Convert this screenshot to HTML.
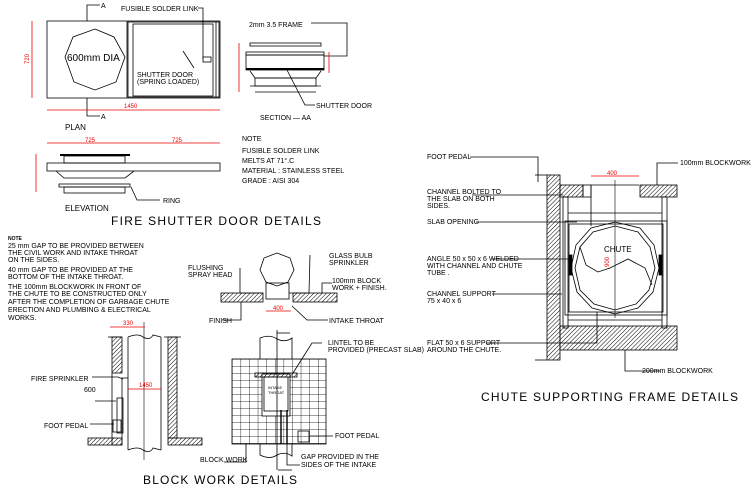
<!DOCTYPE html>
<html><head><meta charset="utf-8"><style>
html,body{margin:0;padding:0;background:#fff}
svg{display:block}
text{font-family:"Liberation Sans",sans-serif;fill:#000}
.s{font-size:7px}
.r{fill:#e00;font-size:6px}
.t{font-size:12px}
.m{font-size:10px}
</style></head><body>
<svg width="754" height="493" viewBox="0 0 754 493" xmlns="http://www.w3.org/2000/svg">
<defs>
<pattern id="h" width="3" height="3" patternUnits="userSpaceOnUse" patternTransform="rotate(45)">
<line x1="0" y1="0" x2="0" y2="3" stroke="#000" stroke-width="1"/></pattern>
<pattern id="g" width="8.6" height="7" patternUnits="userSpaceOnUse" x="232" y="359">
<path d="M0 0H8.6M0 0V7" stroke="#000" stroke-width="0.8" fill="none"/></pattern>
</defs>
<g fill="none" stroke="#000" stroke-width="0.8">
<!-- PLAN -->
<rect x="47" y="21" width="173" height="77"/>
<line x1="127" y1="21" x2="127" y2="98"/>
<rect x="128" y="22" width="91" height="75"/>
<rect x="133" y="24" width="80" height="72"/>
<line x1="216" y1="22" x2="216" y2="97"/>
<polygon points="95,29 114,37 125,57 116,82 95,90 74,82 65,57 73,37"/>
<polyline points="87,21 87,5 100,5"/>
<polyline points="87,98 87,116 100,116"/>
<polyline points="198,8 203,8 203,59"/>
<rect x="203" y="57" width="8" height="5"/>
<line x1="183" y1="51" x2="194" y2="68"/>
<!-- SECTION AA -->
<rect x="250" y="43" width="71" height="3"/>
<rect x="246" y="52" width="78" height="3"/>
<rect x="246" y="55" width="78" height="15"/>
<line x1="246" y1="69" x2="324" y2="69" stroke-width="2"/>
<polyline points="250,71 255,78 316,78 321,71"/>
<rect x="255" y="78" width="61" height="8"/>
<line x1="250" y1="86" x2="321" y2="86"/>
<line x1="255" y1="92" x2="316" y2="92"/>
<polyline points="311,23 347,23 347,56 324,56"/>
<polyline points="287,70 305,105 315,105"/>
<line x1="239" y1="43" x2="239" y2="92" stroke="#e00"/>
<line x1="329" y1="52" x2="329" y2="73" stroke="#e00"/>
<!-- ELEVATION -->
<line x1="60" y1="155" x2="130" y2="155" stroke-width="2"/>
<rect x="64" y="156" width="61" height="7"/>
<rect x="47" y="163" width="173" height="8"/>
<polyline points="56,171 64,178 125,178 134,171"/>
<rect x="59" y="184" width="71" height="3"/>
<rect x="64" y="187" width="61" height="6"/>
<polyline points="131,187 137,200 160,200"/>
<line x1="36" y1="154" x2="36" y2="192" stroke="#e00"/>
<line x1="47" y1="143" x2="220" y2="143" stroke="#e00"/>
<line x1="47" y1="110" x2="220" y2="110" stroke="#e00"/>
<line x1="32" y1="21" x2="32" y2="98" stroke="#e00"/>
<!-- BLOCK WORK plan section -->
<rect x="112" y="337" width="10" height="36" fill="url(#h)"/>
<rect x="168" y="337" width="9" height="101" fill="url(#h)"/>
<rect x="88" y="438" width="34" height="7" fill="url(#h)"/>
<rect x="168" y="438" width="34" height="7" fill="url(#h)"/>
<line x1="108" y1="337" x2="122" y2="337"/>
<line x1="164" y1="337" x2="181" y2="337"/>
<path d="M128 337 L128 450 M161 337 L161 450 M128 337 Q138 333 143 337 Q150 341 153 335 L161 337 M128 450 Q138 446 143 450 Q150 454 153 448 L161 450"/>
<line x1="144" y1="322" x2="144" y2="460" stroke-width="0.6"/>
<polyline points="112,373 112,445 122,445 122,378 128,378"/>
<rect x="117" y="398" width="6" height="35"/>
<rect x="113" y="420" width="8" height="12"/>
<polyline points="92,377 118,377 123,379"/>
<line x1="95" y1="401" x2="116" y2="401"/>
<line x1="90" y1="424" x2="114" y2="424"/>
<line x1="128" y1="389" x2="161" y2="389" stroke="#e00"/>
<line x1="110" y1="327" x2="145" y2="327" stroke="#e00"/>
<!-- sprinkler top -->
<polygon points="277,253 290,258 294,270 288,282 277,286 266,282 260,270 264,258"/>
<rect x="266" y="283" width="23" height="16"/>
<rect x="221" y="293" width="42" height="9" fill="url(#h)"/>
<rect x="293" y="293" width="44" height="9" fill="url(#h)"/>
<polyline points="240,268 240,293 263,293"/>
<polyline points="310,255 309,293 289,293"/>
<polyline points="222,320 241,320 241,302"/>
<polyline points="292,306 307,320 328,320"/>
<polyline points="332,283 322,283 322,293"/>
<line x1="266" y1="311" x2="291" y2="311" stroke="#e00"/>
<!-- elevation grid -->
<rect x="232" y="359" width="94" height="85" fill="url(#g)"/>
<rect x="262" y="374" width="28" height="42" fill="#fff"/>
<rect x="264" y="377" width="24" height="34"/>
<rect x="255" y="373" width="42" height="4" fill="url(#h)"/>
<path d="M260 359 V338 Q270 334 277 339 Q285 343 292 338 V359 M260 444 V455 Q270 460 277 455 Q285 451 292 456 V444"/>
<line x1="277" y1="330" x2="277" y2="470"/>
<polyline points="277,333 290,333"/>
<polyline points="278,470 292,470"/>
<line x1="281" y1="410" x2="281" y2="444" stroke-width="1.4"/>
<line x1="287" y1="410" x2="287" y2="444" stroke-width="1.4"/>
<rect x="298" y="431" width="11" height="11"/>
<polyline points="310,436 333,436"/>
<polyline points="293,373 312,343 322,343"/>
<polyline points="246,444 246,462 224,462"/>
<polyline points="287,444 287,465 300,465"/>
<!-- CHUTE FRAME -->
<rect x="547" y="175" width="13" height="185" fill="url(#h)"/>
<rect x="560" y="185" width="23" height="12" fill="url(#h)"/>
<rect x="640" y="185" width="37" height="12" fill="url(#h)"/>
<rect x="560" y="326" width="117" height="24" fill="url(#h)"/>
<line x1="535" y1="175" x2="547" y2="175"/>
<line x1="535" y1="360" x2="547" y2="360"/>
<rect x="583" y="185" width="8" height="12"/>
<polyline points="591,185 591,226 M639,185 639,226"/>
<line x1="591" y1="185" x2="639" y2="185"/>
<rect x="563" y="197" width="5" height="131"/>
<rect x="662" y="197" width="5" height="131"/>
<rect x="565" y="221" width="102" height="94"/>
<rect x="569" y="224" width="94" height="88"/>
<line x1="568" y1="213" x2="662" y2="213"/>
<line x1="568" y1="320" x2="662" y2="320"/>
<polygon points="615,222 640,228 654,245 659,268 653,292 638,308 615,314 592,308 577,292 571,268 576,245 591,228"/>
<polygon points="615,226 638,232 650,247 655,268 649,290 636,304 615,310 594,304 580,290 575,268 580,247 593,232"/>
<polyline points="580,247 586,265 598,272 610,268 628,259 645,268 652,285"/>
<line x1="615" y1="180" x2="615" y2="318" stroke-width="0.6"/>
<rect x="569" y="255" width="3" height="20" fill="#000"/>
<rect x="659" y="255" width="3" height="20" fill="#000"/>
<polyline points="470,157 538,157 538,182"/>
<polyline points="472,195 563,195"/>
<polyline points="476,222 577,222"/>
<polyline points="492,259 571,259"/>
<polyline points="492,294 562,294"/>
<polyline points="486,343 597,343 597,312"/>
<polyline points="660,371 625,371 625,350"/>
<polyline points="678,163 657,163 657,185"/>
<line x1="591" y1="176" x2="639" y2="176" stroke="#e00"/>
</g>
<!-- TEXT -->
<text class="s" x="121" y="11">FUSIBLE SOLDER LINK</text>
<text class="s" x="101" y="8">A</text>
<text class="s" x="101" y="119">A</text>
<text class="m" x="67" y="61">600mm DIA</text>
<text class="s" x="137" y="77">SHUTTER DOOR</text>
<text class="s" x="137" y="84">(SPRING LOADED)</text>
<text class="s" x="65" y="130" style="font-size:8px">PLAN</text>
<text class="r" x="124" y="108">1450</text>
<text class="r" x="29" y="64" transform="rotate(-90 29 64)">720</text>
<text class="s" x="249" y="27">2mm 3.5 FRAME</text>
<text class="s" x="316" y="108">SHUTTER DOOR</text>
<text class="s" x="260" y="120">SECTION — AA</text>
<text class="s" x="242" y="141">NOTE</text>
<text class="s" x="242" y="153">FUSIBLE SOLDER LINK</text>
<text class="s" x="242" y="163">MELTS AT 71°.C</text>
<text class="s" x="242" y="173">MATERIAL   :   STAINLESS STEEL</text>
<text class="s" x="242" y="183">GRADE      :   AISI 304</text>
<text class="r" x="85" y="142">725</text>
<text class="r" x="172" y="142">725</text>
<text class="s" x="163" y="203">RING</text>
<text class="s" x="65" y="211" style="font-size:8px">ELEVATION</text>
<text class="t" x="111" y="225" textLength="210" lengthAdjust="spacing">FIRE SHUTTER DOOR DETAILS</text>
<text class="s" x="8" y="240" style="font-size:5px;font-weight:bold">NOTE</text>
<text class="s" x="8" y="248">25 mm GAP TO BE PROVIDED BETWEEN</text>
<text class="s" x="8" y="255">THE CIVIL WORK AND INTAKE THROAT</text>
<text class="s" x="8" y="262">ON THE SIDES.</text>
<text class="s" x="8" y="272">40 mm GAP TO BE PROVIDED AT THE</text>
<text class="s" x="8" y="279">BOTTOM OF THE INTAKE THROAT.</text>
<text class="s" x="8" y="289">THE 100mm BLOCKWORK IN FRONT OF</text>
<text class="s" x="8" y="296">THE CHUTE TO BE CONSTRUCTED ONLY</text>
<text class="s" x="8" y="304">AFTER THE COMPLETION OF GARBAGE CHUTE</text>
<text class="s" x="8" y="312">ERECTION AND PLUMBING &amp; ELECTRICAL</text>
<text class="s" x="8" y="320">WORKS.</text>
<text class="r" x="123" y="325">330</text>
<text class="r" x="139" y="387">1450</text>
<text class="s" x="31" y="381">FIRE SPRINKLER</text>
<text class="s" x="84" y="392">600</text>
<text class="s" x="44" y="428">FOOT PEDAL</text>
<text class="s" x="188" y="270">FLUSHING</text>
<text class="s" x="188" y="277">SPRAY HEAD</text>
<text class="s" x="329" y="258">GLASS BULB</text>
<text class="s" x="329" y="265">SPRINKLER</text>
<text class="s" x="332" y="283">100mm BLOCK</text>
<text class="s" x="332" y="290">WORK + FINISH.</text>
<text class="s" x="209" y="323">FINISH</text>
<text class="s" x="329" y="323">INTAKE THROAT</text>
<text class="r" x="273" y="310">400</text>
<text class="s" x="328" y="345">LINTEL TO BE</text>
<text class="s" x="328" y="352">PROVIDED (PRECAST SLAB)</text>
<text class="s" x="268" y="389" style="font-size:4px">INTAKE</text>
<text class="s" x="268" y="394" style="font-size:4px">THROAT</text>
<text class="s" x="335" y="438">FOOT PEDAL</text>
<text class="s" x="200" y="462">BLOCK WORK</text>
<text class="s" x="301" y="459">GAP PROVIDED IN THE</text>
<text class="s" x="301" y="467">SIDES OF THE INTAKE</text>
<text class="t" x="143" y="484" textLength="154" lengthAdjust="spacing">BLOCK WORK DETAILS</text>
<text class="s" x="427" y="159">FOOT PEDAL</text>
<text class="s" x="680" y="165">100mm BLOCKWORK</text>
<text class="r" x="607" y="175">400</text>
<text class="s" x="427" y="194">CHANNEL BOLTED TO</text>
<text class="s" x="427" y="201">THE SLAB ON BOTH</text>
<text class="s" x="427" y="208">SIDES.</text>
<text class="s" x="427" y="224">SLAB OPENING</text>
<text class="s" x="604" y="252" style="font-size:8px">CHUTE</text>
<text class="r" x="609" y="267" transform="rotate(-90 609 267)">900</text>
<text class="s" x="427" y="261">ANGLE 50 x 50 x 6 WELDED</text>
<text class="s" x="427" y="268">WITH CHANNEL AND CHUTE</text>
<text class="s" x="427" y="275">TUBE .</text>
<text class="s" x="427" y="296">CHANNEL SUPPORT</text>
<text class="s" x="427" y="303">75 x 40 x 6</text>
<text class="s" x="427" y="345">FLAT 50 x 6 SUPPORT</text>
<text class="s" x="427" y="352">AROUND THE CHUTE.</text>
<text class="s" x="642" y="373">200mm BLOCKWORK</text>
<text class="t" x="481" y="401" textLength="257" lengthAdjust="spacing">CHUTE SUPPORTING FRAME DETAILS</text>
</svg>
</body></html>
